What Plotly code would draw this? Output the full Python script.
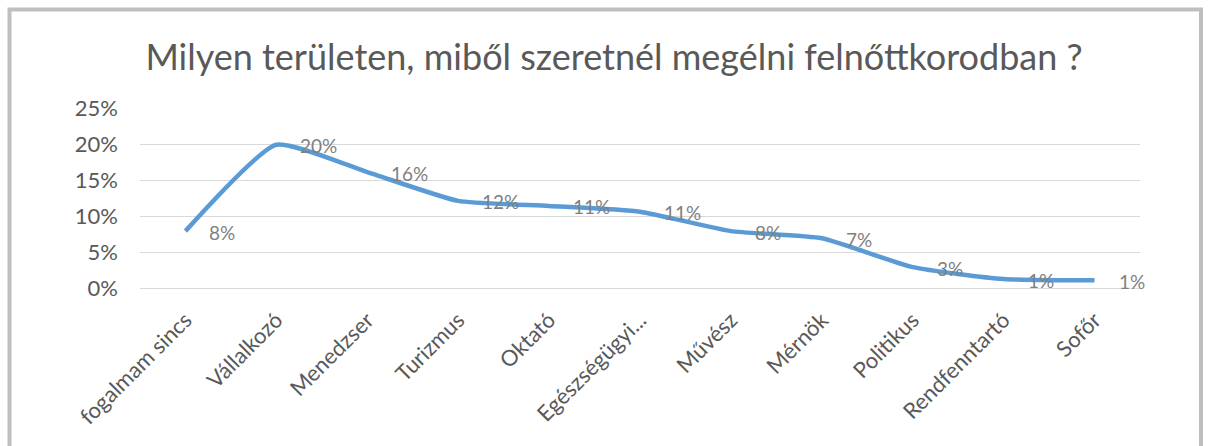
import plotly.graph_objects as go

categories = ["fogalmam sincs", "Vállalkozó", "Menedzser", "Turizmus", "Oktató",
              "Egészségügyi...", "Művész", "Mérnök", "Politikus", "Rendfenntartó", "Sofőr"]
values = [7.9, 19.9, 16.1, 12.1, 11.4, 10.6, 7.9, 6.9, 2.9, 1.25, 1.06]
y_ticks = [0, 5, 10, 15, 20, 25]
y_tick_labels = [f"{v}%" for v in y_ticks]
title_text = "Milyen területen, miből szeretnél megélni felnőttkorodban ?"

FONT = "Lato"
GRAY = "#595959"

fig = go.Figure()
fig.add_trace(go.Scatter(
    x=categories, y=values, mode="lines",
    line=dict(color="#5B9BD5", width=4.5, shape="spline", smoothing=0.5),
    hoverinfo="skip", showlegend=False,
))

for c, v in zip(categories, values):
    fig.add_annotation(x=c, y=v, text=f"{v:.0f}%", showarrow=False,
                       xanchor="left", yanchor="middle", xshift=22, yshift=-1,
                       font=dict(family=FONT, size=19, color="#7F7F7F"))

fig.update_layout(
    width=1210, height=446,
    margin=dict(l=140, r=70, t=108, b=158, autoexpand=False),
    paper_bgcolor="white", plot_bgcolor="white",
    title=dict(text=title_text, x=0.474, xref="paper", xanchor="center",
               y=1 - 57 / 446, yref="container", yanchor="middle",
               font=dict(family=FONT, size=36, color=GRAY)),
    xaxis=dict(type="category", range=[-0.5, len(categories) - 0.5],
               showgrid=False, showline=False, zeroline=False,
               tickangle=-45, ticks="", automargin=False, ticklabelstandoff=14,
               tickfont=dict(family=FONT, size=22, color=GRAY)),
    yaxis=dict(range=[0, 25], tickvals=y_ticks, ticktext=y_tick_labels,
               showgrid=True, gridcolor="#D9D9D9", gridwidth=1,
               zeroline=True, zerolinecolor="#D9D9D9", zerolinewidth=1,
               showline=False, ticks="", automargin=False, ticklabelstandoff=21,
               tickfont=dict(family=FONT, size=22, color=GRAY)),
    shapes=[dict(type="rect", xref="paper", yref="paper",
                 x0=(9.5 - 140) / 1000, x1=(1201 - 140) / 1000,
                 y0=(288 - 480) / 180, y1=(288 - 9.5) / 180,
                 line=dict(color="#BFBFBF", width=4), fillcolor="rgba(0,0,0,0)",
                 layer="below")],
)

fig.write_html("out.html", config={"displayModeBar": False},
               post_script="document.body.style.margin='0px';")
